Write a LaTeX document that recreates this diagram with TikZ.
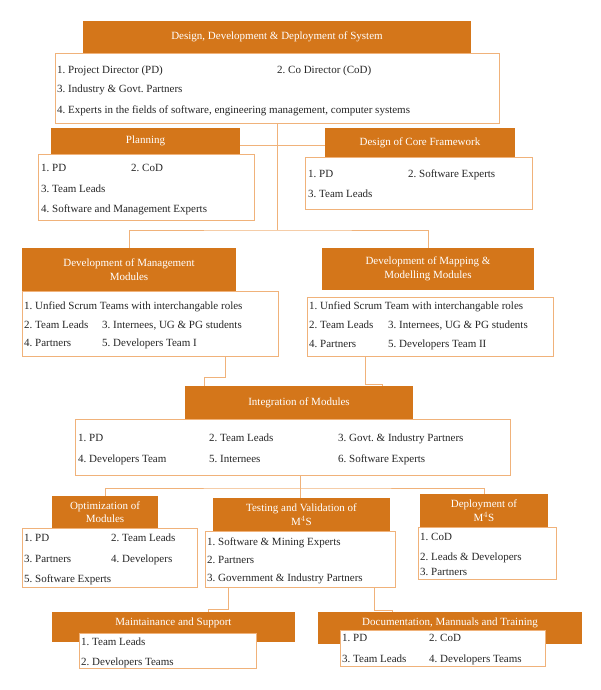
\documentclass[tikz,border=0pt]{standalone}
\usepackage{fontspec}
\setmainfont{Liberation Serif}
\definecolor{hdorange}{HTML}{D4761A}
\definecolor{lnorange}{HTML}{F0B27A}
\frenchspacing
\begin{document}
\begin{tikzpicture}[x=1pt,y=-1pt,
  every node/.style={font=\fontsize{11}{13.5}\selectfont},
  hd/.style={fill=hdorange,text=white,inner sep=0pt,align=center},
  bx/.style={draw=lnorange,fill=white,inner sep=0pt,line width=0.9pt},
  it/.style={anchor=west,inner sep=0pt,text=black!85,text height=9pt,text depth=2pt},
  ln/.style={draw=lnorange,line width=0.9pt}]
\useasboundingbox (0,0) rectangle (600,690);
% top block
\draw (277,37) node (hdsys) [hd,minimum width=388,minimum height=32] {Design, Development \& Deployment of System};
\draw (277,88) node (bxsys) [bx,minimum width=444,minimum height=70] {};
\draw (57,70) node (sys1) [it] {1. Project Director (PD)};
\draw (277,70) node (sys2) [it] {2. Co Director (CoD)};
\draw (57,89) node (sys3) [it] {3. Industry \& Govt. Partners};
\draw (57,110) node (sys4) [it] {4. Experts in the fields of software, engineering management, computer systems};
% planning and core framework
\draw (145.5,141) node (hdplan) [hd,minimum width=189,minimum height=26] {Planning};
\draw (146,187) node (bxplan) [bx,minimum width=216,minimum height=66] {};
\draw (41,168) node (plan1) [it] {1. PD};
\draw (131,168) node (plan2) [it] {2. CoD};
\draw (41,189) node (plan3) [it] {3. Team Leads};
\draw (41,209) node (plan4) [it] {4. Software and Management Experts};
\draw (420,142.5) node (hddes) [hd,minimum width=190,minimum height=29] {Design of Core Framework};
\draw (418.5,183) node (bxdes) [bx,minimum width=227,minimum height=52] {};
\draw (308,174) node (des1) [it] {1. PD};
\draw (408,174) node (des2) [it] {2. Software Experts};
\draw (308,194) node (des3) [it] {3. Team Leads};
% development modules
\draw (129,269.5) node (hdmgmt) [hd,minimum width=214,minimum height=43] {Development of Management\\Modules};
\draw (150,323.5) node (bxmgmt) [bx,minimum width=256,minimum height=65] {};
\draw (24,306) node (mgmt1) [it] {1. Unfied Scrum Teams with interchangable roles};
\draw (24,325) node (mgmt2) [it] {2. Team Leads};
\draw (102,325) node (mgmt3) [it] {3. Internees, UG \& PG students};
\draw (24,343) node (mgmt4) [it] {4. Partners};
\draw (102,343) node (mgmt5) [it] {5. Developers Team I};
\draw (428,269) node (hdmap) [hd,minimum width=212,minimum height=42] {Development of Mapping \&\\Modelling Modules};
\draw (430,326.5) node (bxmap) [bx,minimum width=246,minimum height=59] {};
\draw (309,306) node (map1) [it] {1. Unfied Scrum Team with interchangable roles};
\draw (309,325) node (map2) [it] {2. Team Leads};
\draw (388,325) node (map3) [it] {3. Internees, UG \& PG students};
\draw (309,344) node (map4) [it] {4. Partners};
\draw (388,344) node (map5) [it] {5. Developers Team II};
% integration
\draw (299,402.5) node (hdint) [hd,minimum width=228,minimum height=33] {Integration of Modules};
\draw (292.5,447) node (bxint) [bx,minimum width=435,minimum height=56] {};
\draw (78,438) node (int1) [it] {1. PD};
\draw (209,438) node (int2) [it] {2. Team Leads};
\draw (338,438) node (int3) [it] {3. Govt. \& Industry Partners};
\draw (78,459) node (int4) [it] {4. Developers Team};
\draw (209,459) node (int5) [it] {5. Internees};
\draw (338,459) node (int6) [it] {6. Software Experts};
% optimization, testing, deployment
\draw (105,512) node (hdopt) [hd,minimum width=106,minimum height=32] {Optimization of\\Modules};
\draw (109.5,557.5) node (bxopt) [bx,minimum width=175,minimum height=59] {};
\draw (24,538) node (opt1) [it] {1. PD};
\draw (111,538) node (opt2) [it] {2. Team Leads};
\draw (24,559) node (opt3) [it] {3. Partners};
\draw (111,559) node (opt4) [it] {4. Developers};
\draw (24,579) node (opt5) [it] {5. Software Experts};
\draw (301.5,514.5) node (hdtest) [hd,minimum width=177,minimum height=33] {Testing and Validation of\\M$^4$S};
\draw (300,559) node (bxtest) [bx,minimum width=190,minimum height=56] {};
\draw (207,542) node (test1) [it] {1. Software \& Mining Experts};
\draw (207,560) node (test2) [it] {2. Partners};
\draw (207,578) node (test3) [it] {3. Government \& Industry Partners};
\draw (484,510.5) node (hddep) [hd,minimum width=128,minimum height=33] {Deployment of\\M$^4$S};
\draw (487,553) node (bxdep) [bx,minimum width=138,minimum height=52] {};
\draw (420,537) node (dep1) [it] {1. CoD};
\draw (420,557) node (dep2) [it] {2. Leads \& Developers};
\draw (420,572) node (dep3) [it] {3. Partners};
% maintenance and documentation
\draw (173.5,627) node (hdmain) [hd,minimum width=243,minimum height=30,text depth=11pt] {Maintainance and Support};
\draw (167.5,650.5) node (bxmain) [bx,minimum width=177,minimum height=35] {};
\draw (81,642) node (main1) [it] {1. Team Leads};
\draw (81,662) node (main2) [it] {2. Developers Teams};
\draw (450,628) node (hddoc) [hd,minimum width=264,minimum height=32,text depth=13pt] {Documentation, Mannuals and Training};
\draw (442.5,648) node (bxdoc) [bx,minimum width=205,minimum height=36] {};
\draw (342,638) node (doc1) [it] {1. PD};
\draw (429,638) node (doc2) [it] {2. CoD};
\draw (342,659) node (doc3) [it] {3. Team Leads};
\draw (429,659) node (doc4) [it] {4. Developers Teams};
% connectors
\coordinate (j1) at (277,230);
\coordinate (j2) at (300,488);
\draw[ln] (bxsys.south) -- (j1);
\draw[ln] (hdplan.east |- 0,145) -- (hddes.west |- 0,145);
\draw[ln] (hdmgmt.north) |- (j1) -| (hdmap.north);
\draw[ln] (bxmgmt.south -| 225,0) |- (204,377) -- (hdint.north -| 204,0);
\draw[ln] (bxmap.south -| 365,0) |- (382,384) -- (hdint.north -| 382,0);
\draw[ln] (bxint.south -| j2) -- (j2);
\draw[ln] (hdopt.north) |- (j2) -| (hddep.north);
\draw[ln] (j2) -- (hdtest.north -| j2);
\draw[ln] (bxtest.south -| 228,0) |- (208,609) -- (hdmain.north -| 208,0);
\draw[ln] (bxtest.south -| 374,0) |- (392,610) -- (hddoc.north -| 392,0);
\end{tikzpicture}
\end{document}
